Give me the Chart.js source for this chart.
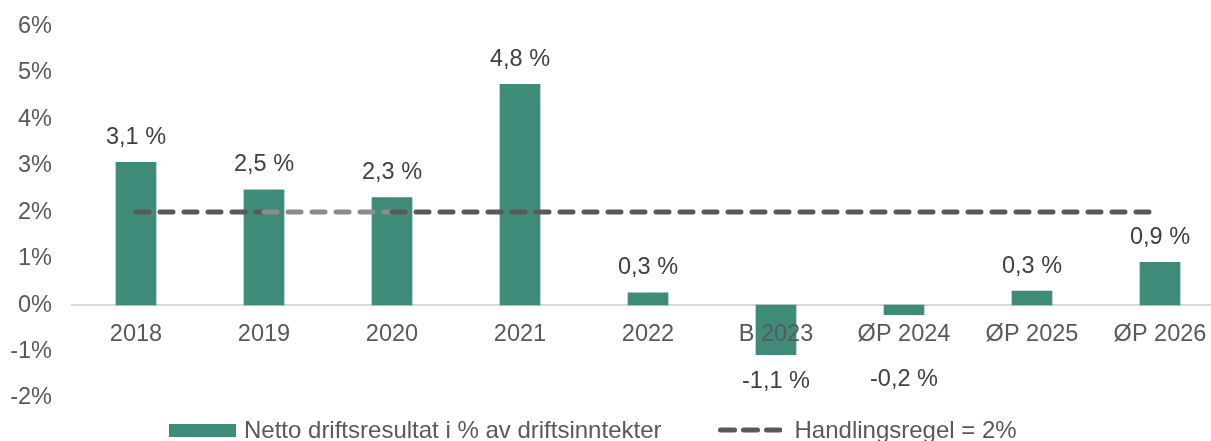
<!DOCTYPE html>
<html>
<head>
<meta charset="utf-8">
<script src="https://cdn.jsdelivr.net/npm/chart.js@4"></script>
<style>
  html, body { margin: 0; padding: 0; background: #fff; overflow: hidden; }
  #wrap { position: absolute; left: 0; top: 0; width: 1224px; height: 441px; }
  #legend {
    position: absolute; left: 169px; top: 416px; height: 28px;
    display: flex; align-items: center;
    font-family: "Liberation Sans", Arial, sans-serif; font-size: 24px; color: #595959;
    white-space: nowrap;
  }
  .box { width: 67px; height: 13px; background: #3E8B79; margin-right: 8px; }
  .gap { width: 56px; }
</style>
</head>
<body>
<div id="wrap"><canvas id="chart"></canvas></div>
<div id="legend">
  <span class="box"></span><span>Netto driftsresultat i % av driftsinntekter</span>
  <span class="gap"></span>
  <svg width="64" height="10" style="margin-right:13px"><line x1="2.5" y1="5" x2="62" y2="5" stroke="#595959" stroke-width="5" stroke-linecap="round" stroke-dasharray="14 9"/></svg>
  <span>Handlingsregel = 2%</span>
</div>
<script>
const categories = ['2018', '2019', '2020', '2021', '2022', 'B 2023', 'ØP 2024', 'ØP 2025', 'ØP 2026'];
const resultValues = [3.07, 2.48, 2.31, 4.75, 0.26, -1.07, -0.21, 0.30, 0.92];
const ruleValues = [2, 2, 2, 2, 2, 2, 2, 2, 2];
const yMin = -2;
const yMax = 6;

const fontFamily = '"Liberation Sans", Arial, sans-serif';

// labels over/under the bars, "3,1 %" style
const barLabels = {
  id: 'barLabels',
  afterDatasetsDraw(chart) {
    const ctx = chart.ctx;
    const meta = chart.getDatasetMeta(0);
    const zeroY = chart.scales.y.getPixelForValue(0);
    ctx.save();
    ctx.font = '23.5px ' + fontFamily;
    ctx.fillStyle = '#404040';
    ctx.textAlign = 'center';
    ctx.textBaseline = 'middle';
    meta.data.forEach((bar, i) => {
      const v = resultValues[i];
      const txt = v.toFixed(1).replace('.', ',') + ' %';
      let y;
      if (v >= 0) y = bar.y - 25;
      else y = Math.max(bar.y + 27, zeroY + 74);
      ctx.fillText(txt, bar.x, y);
    });
    ctx.restore();
  }
};

new Chart(document.getElementById('chart'), {
  data: {
    labels: categories,
    datasets: [
      {
        type: 'bar',
        label: 'Netto driftsresultat i % av driftsinntekter',
        data: resultValues,
        backgroundColor: '#3E8B79',
        barThickness: 40,
        order: 1
      },
      {
        type: 'line',
        label: 'Handlingsregel = 2%',
        data: ruleValues,
        borderColor: '#595959',
        borderWidth: 5,
        borderDash: [13, 11],
        borderCapStyle: 'round',
        pointRadius: 0,
        fill: false,
        segment: {
          borderColor: c => c.p0DataIndex === 1 ? '#8c8c8c' : '#595959'
        },
        order: 0
      }
    ]
  },
  options: {
    responsive: true,
    maintainAspectRatio: false,
    animation: false,
    layout: { padding: { top: 26, bottom: 43, left: 0, right: 0 } },
    plugins: {
      legend: { display: false },
      tooltip: { enabled: false }
    },
    scales: {
      x: {
        position: { y: 0 },
        offset: true,
        grid: { display: false },
        border: { display: true, color: '#d9d9d9', width: 2 },
        ticks: {
          z: 1,
          color: '#595959',
          font: { size: 23.5, family: fontFamily },
          padding: 7,
          maxRotation: 0,
          autoSkip: false
        }
      },
      y: {
        min: yMin,
        max: yMax,
        grid: { display: false },
        border: { display: false },
        afterFit: scale => { scale.width = 72; },
        ticks: {
          stepSize: 1,
          color: '#595959',
          font: { size: 23.5, family: fontFamily },
          padding: 12,
          callback: v => v + '%'
        }
      }
    }
  },
  plugins: [barLabels]
});
</script>
</body>
</html>
